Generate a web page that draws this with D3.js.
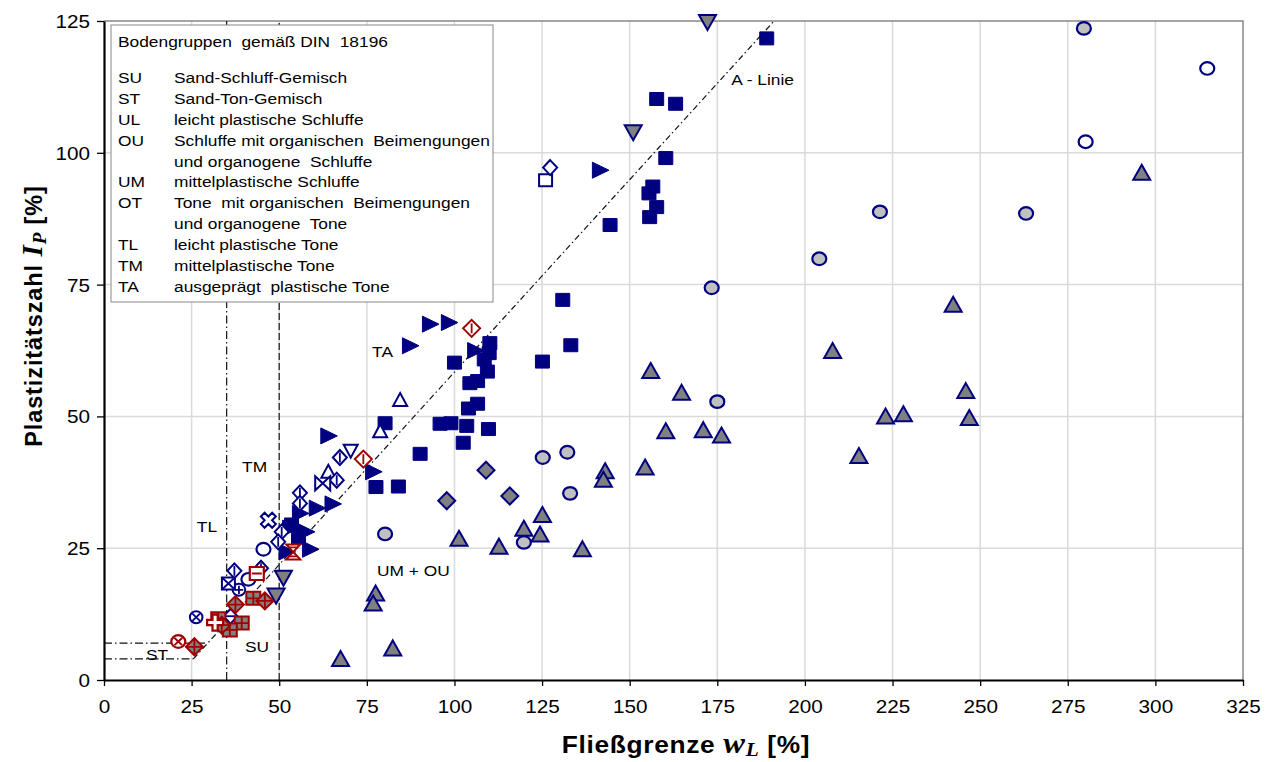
<!DOCTYPE html>
<html>
<head>
<meta charset="utf-8">
<script src="https://cdn.jsdelivr.net/npm/d3@7"></script>
<style>
  body { margin: 0; background: #fff; }
  svg { display: block; }
  text { font-family: "Liberation Sans", Arial, sans-serif; fill: #000; white-space: pre; }
</style>
</head>
<body>
<svg id="chart" width="1278" height="762"></svg>
<script>
// ---- Data: liquid limit wL [%] vs. plasticity index Ip [%] ----
const xTicks = [0, 25, 50, 75, 100, 125, 150, 175, 200, 225, 250, 275, 300, 325];
const yTicks = [0, 25, 50, 75, 100, 125];

const filledSquares = [[189.1,121.7],[157.7,110.2],[163.1,109.3],[160.3,99.0],[156.6,93.6],[155.5,92.3],[157.7,89.7],[155.7,87.8],[144.4,86.3],[130.9,72.1],[110.1,63.9],[109.9,62.0],[108.5,60.8],[100.0,60.2],[125.1,60.4],[133.2,63.5],[109.4,58.5],[106.6,56.7],[104.4,56.3],[106.6,52.4],[104.0,51.5],[80.2,48.7],[95.9,48.6],[99.0,48.7],[103.5,48.2],[109.7,47.6],[102.5,45.0],[90.2,42.9],[77.6,36.6],[84.0,36.7],[53.5,29.5],[55.5,27.0]];
const filledRightTriangles = [[141.5,96.7],[93.0,67.5],[98.4,67.8],[87.3,63.4],[105.9,62.5],[76.8,39.5],[64.0,46.3],[65.2,33.4],[60.7,32.6],[55.9,31.6],[57.6,28.1],[58.8,24.8],[53.1,28.8],[52.1,24.3]];
const openSquares = [[126.0,94.8]];
const openDiamonds = [[127.3,97.2]];
const openTrianglesUp = [[84.5,53.1],[78.8,47.2],[64.0,39.5]];
const openTrianglesDown = [[70.4,43.5]];
const openDiamondsVLine = [[67.3,42.2],[66.4,37.9],[55.9,35.5],[55.9,33.5],[50.7,28.1],[49.7,26.2],[44.8,21.2],[37.2,20.7]];
const openDiamondsHLine = [[36.1,12.1]];
const bowties = [[62.4,37.3]];
const openCrosses = [[46.9,30.3]];
const openCircles = [[314.8,116.0],[280.1,102.1],[45.5,24.8],[41.2,19.1]];
const grayCircles = [[279.6,123.6],[221.4,88.8],[263.1,88.5],[204.1,79.9],[173.4,74.4],[175.0,52.8],[125.2,42.2],[132.2,43.2],[133.0,35.4],[80.2,27.7],[119.8,26.1]];
const grayTrianglesUp = [[296.1,96.1],[242.3,71.1],[207.9,62.3],[245.9,54.7],[246.9,49.6],[223.0,49.9],[228.1,50.3],[215.4,42.4],[156.0,58.5],[164.8,54.4],[160.3,47.1],[171.0,47.3],[176.2,46.3],[154.4,40.2],[143.0,39.5],[142.5,37.9],[125.1,31.2],[119.8,28.6],[124.4,27.5],[101.3,26.7],[112.7,25.2],[136.5,24.7],[77.5,16.3],[76.8,14.4],[82.4,5.9],[67.5,3.9]];
const grayTrianglesDown = [[172.2,124.9],[151.0,104.0],[51.2,19.5],[49.1,16.1]];
const grayDiamonds = [[109.0,39.8],[97.8,34.0],[115.8,34.9]];
const circlesX = [[26.3,11.9]];
const circlesPlus = [[38.5,17.1]];
const squaresX = [[35.5,18.3]];
const redCirclesX = [[21.2,7.3]];
const redDiamondsVLine = [[104.9,66.7],[74.0,41.9]];
const redHourglasses = [[54.0,24.3]];
const redSquaresHLine = [[43.6,20.2]];
const redCrosses = [[31.7,10.9]];
const redGridDiamonds = [[25.8,6.3],[45.9,15.0],[37.5,14.3],[33.6,10.4]];
const redGridSquares = [[42.6,15.5],[39.3,10.8],[35.9,9.5],[32.6,11.6]];

// Classification boundaries (DIN 18196 plasticity chart)
const aLine = [[25.5,4],[191.2,125]];
const ipLow = [[0,4],[25.5,4]];
const ipHigh = [[0,7],[29.6,7]];
const wl35 = [[35,0],[35,125]];
const wl50 = [[50,0],[50,125]];

// Zone annotations, anchored in data units
const zoneLabels = [["A - Linie",179.0,112.9],["TA",76.5,61.2],["TM",39.4,39.4],["TL",26.5,28.1],["UM + OU",77.9,19.7],["SU",40.2,5.3],["ST",12.0,3.8]];

const legendTitle = "Bodengruppen  gemäß DIN  18196";
const legendCodes = ["SU","ST","UL","OU","","UM","OT","","TL","TM","TA"];
const legendTexts = ["Sand-Schluff-Gemisch","Sand-Ton-Gemisch","leicht plastische Schluffe","Schluffe mit organischen  Beimengungen","und organogene  Schluffe","mittelplastische Schluffe","Tone  mit organischen  Beimengungen","und organogene  Tone","leicht plastische Tone","mittelplastische Tone","ausgeprägt  plastische Tone"];

// ---- Layout ----
const NAVY = "#000080", RED = "#a00000", GRAY = "#808080", LIGHT = "#c0c0c0";
const SX = 1.12; // horizontal glyph stretch
const svg = d3.select("#chart");
const x = d3.scaleLinear().domain([0, 325]).range([104, 1243]);
const y = d3.scaleLinear().domain([0, 125]).range([680, 21]);

// Grid
const grid = svg.append("g").attr("stroke", "#dadada").attr("stroke-width", 1.5);
grid.selectAll(".gx").data(xTicks.slice(1, -1)).join("line")
  .attr("x1", d => x(d)).attr("x2", d => x(d)).attr("y1", y(0)).attr("y2", y(125));
grid.selectAll(".gy").data(yTicks.slice(1, -1)).join("line")
  .attr("x1", x(0)).attr("x2", x(325)).attr("y1", d => y(d)).attr("y2", d => y(d));

// Plot frame (top / right)
svg.append("path")
  .attr("d", `M${x(0)},${y(125)}H${x(325)}V${y(0)}`)
  .attr("fill", "none").attr("stroke", "#888").attr("stroke-width", 1.5);

// Boundary lines
const line = d3.line().x(d => x(d[0])).y(d => y(d[1]));
const bounds = svg.append("g").attr("fill", "none").attr("stroke", "#111").attr("stroke-width", 1.2);
bounds.append("path").attr("d", line(aLine)).attr("stroke-dasharray", "6,3,1.5,3");
bounds.append("path").attr("d", line(ipLow)).attr("stroke-dasharray", "8,3,1.5,3");
bounds.append("path").attr("d", line(ipHigh)).attr("stroke-dasharray", "8,3,1.5,3");
bounds.append("path").attr("d", line(wl35)).attr("stroke-dasharray", "8,3,1.5,3");
bounds.append("path").attr("d", line(wl50)).attr("stroke-dasharray", "7,3").attr("stroke", "#333").attr("stroke-width", 1.4);

// Stretched text helper
function stext(g, px, py, str, size, anchor) {
  return g.append("text")
    .attr("transform", `translate(${px},${py}) scale(${SX},1)`)
    .attr("font-size", size)
    .attr("text-anchor", anchor || "start")
    .text(str);
}

// Zone labels
const zl = svg.append("g");
zoneLabels.forEach(d => stext(zl, x(d[1]), y(d[2]), d[0], 15.5));

// Legend box
const lg = svg.append("g");
lg.append("rect").attr("x", 111).attr("y", 25).attr("width", 382).attr("height", 277)
  .attr("fill", "#fff").attr("stroke", "#888").attr("stroke-width", 1);
stext(lg, 118, 47, legendTitle, 15.5);
legendTexts.forEach((t, i) => {
  const by = 83.3 + i * 20.83;
  if (legendCodes[i]) stext(lg, 118, by, legendCodes[i], 15.5);
  stext(lg, 174, by, t, 15.5);
});

// Axes
const yAxis = svg.append("g").attr("transform", `translate(${x(0)},0)`)
  .call(d3.axisLeft(y).tickValues(yTicks).tickSize(7).tickSizeOuter(0));
const xAxis = svg.append("g").attr("transform", `translate(0,${y(0)})`)
  .call(d3.axisBottom(x).tickValues(xTicks).tickSize(6).tickSizeOuter(0));
[yAxis, xAxis].forEach(a => {
  a.select(".domain").attr("stroke", "#000").attr("stroke-width", 2.2);
  a.selectAll(".tick line").attr("stroke", "#000").attr("stroke-width", 1.3);
  a.selectAll(".tick text").attr("font-family", null).attr("font-size", 18.5).attr("fill", "#000");
});
yAxis.selectAll(".tick text").attr("x", 0).attr("dy", "0.35em")
  .attr("transform", `translate(-14,0) scale(${SX},1)`);
xAxis.selectAll(".tick text").attr("y", 0).attr("dy", 0)
  .attr("transform", `translate(0,33) scale(${SX},1)`);

// Axis titles
const xt = svg.append("text")
  .attr("transform", `translate(686,753) scale(${SX},1)`)
  .attr("text-anchor", "middle").attr("font-weight", "bold").attr("font-size", 23.5)
  .attr("letter-spacing", 0.6);
xt.append("tspan").text("Fließgrenze ");
xt.append("tspan").attr("font-family", "Liberation Serif").attr("font-style", "italic").attr("font-size", 29).text("w");
xt.append("tspan").attr("font-family", "Liberation Serif").attr("font-style", "italic").attr("font-size", 19).attr("dy", 3).text("L");
xt.append("tspan").attr("dy", -3).text(" [%]");

const yt = svg.append("text")
  .attr("transform", "translate(42,316) rotate(-90)")
  .attr("text-anchor", "middle").attr("font-weight", "bold").attr("font-size", 23.5)
  .attr("letter-spacing", 0.9);
yt.append("tspan").text("Plastizitätszahl ");
yt.append("tspan").attr("font-family", "Liberation Serif").attr("font-style", "italic").attr("font-size", 29).text("I");
yt.append("tspan").attr("font-family", "Liberation Serif").attr("font-style", "italic").attr("font-size", 19).attr("dy", 4).text("P");
yt.append("tspan").attr("dy", -4).text(" [%]");

// ---- Marker shapes ----
const arm = 2.6, len = 8;
const crossPoly = `M${-arm},${-len}H${arm}V${-arm}H${len}V${arm}H${arm}V${len}H${-arm}V${arm}H${-len}V${-arm}H${-arm}Z`;
const SHAPES = {
  square: "M-7,-6.5H7V6.5H-7Z",
  triR: "M-7.5,-8L9,0L-7.5,8Z",
  triU: "M0,-8.5L8.5,6.5L-8.5,6.5Z",
  triUsmall: "M0,-7L7,6L-7,6Z",
  triD: "M-8.5,-6.5L8.5,-6.5L0,8.5Z",
  triDsmall: "M-7,-6L7,-6L0,7Z",
  diamond: "M0,-8.5L8.5,0L0,8.5L-8.5,0Z",
  diamondSmall: "M0,-7.5L7,0L0,7.5L-7,0Z",
  circle: "M-7,0A7,6.3 0 1,0 7,0A7,6.3 0 1,0 -7,0Z",
  circleSmall: "M-6.3,0A6.3,6 0 1,0 6.3,0A6.3,6 0 1,0 -6.3,0Z",
  bowtie: "M-7.5,-7L0,0L7.5,-7L7.5,7L0,0L-7.5,7Z",
  hourglass: "M-7,-7.5H7L0,0L7,7.5H-7L0,0Z",
  cross: crossPoly,
  squareSmall: "M-6.5,-6H6.5V6H-6.5Z"
};
const INNER = {
  vline: "M0,-5V5",
  hline: "M-4.5,0H4.5",
  hlineSq: "M-5,0H5",
  x: "M-3.8,-3.6L3.8,3.6M3.8,-3.6L-3.8,3.6",
  plus: "M-4.3,0H4.3M0,-4.1V4.1",
  gridSq: "M-7,0H7M0,-6.5V6.5",
  gridDia: "M-8.5,0H8.5M0,-8.5V8.5",
  xSq: "M-6.5,-6L6.5,6M6.5,-6L-6.5,6",
  hourglass: "M-4,-4.5H4M-4,4.5H4"
};

const seriesList = [
  { data: grayTrianglesUp, shape: "triU", fill: GRAY, stroke: NAVY, sw: 2 },
  { data: grayCircles, shape: "circle", fill: LIGHT, stroke: NAVY, sw: 2.2 },
  { data: grayDiamonds, shape: "diamond", fill: GRAY, stroke: NAVY, sw: 2 },
  { data: openCircles, shape: "circle", fill: "#fff", stroke: NAVY, sw: 2.2 },
  { data: filledSquares, shape: "square", fill: NAVY, stroke: NAVY, sw: 1 },
  { data: filledRightTriangles, shape: "triR", fill: NAVY, stroke: NAVY, sw: 1 },
  { data: grayTrianglesDown, shape: "triD", fill: GRAY, stroke: NAVY, sw: 2 },
  { data: openSquares, shape: "squareSmall", fill: "#fff", stroke: NAVY, sw: 2 },
  { data: openDiamonds, shape: "diamondSmall", fill: "#fff", stroke: NAVY, sw: 2 },
  { data: openTrianglesUp, shape: "triUsmall", fill: "#fff", stroke: NAVY, sw: 2 },
  { data: openTrianglesDown, shape: "triDsmall", fill: "#fff", stroke: NAVY, sw: 2 },
  { data: openDiamondsVLine, shape: "diamondSmall", fill: "#fff", stroke: NAVY, sw: 2, inner: "vline" },
  { data: openDiamondsHLine, shape: "diamondSmall", fill: "#fff", stroke: NAVY, sw: 2, inner: "hline" },
  { data: bowties, shape: "bowtie", fill: "#fff", stroke: NAVY, sw: 2 },
  { data: openCrosses, shape: "cross", fill: "#fff", stroke: NAVY, sw: 2, rotate: 45 },
  { data: circlesX, shape: "circleSmall", fill: "#fff", stroke: NAVY, sw: 2, inner: "x" },
  { data: circlesPlus, shape: "circleSmall", fill: "#fff", stroke: NAVY, sw: 2, inner: "plus" },
  { data: squaresX, shape: "squareSmall", fill: "#fff", stroke: NAVY, sw: 2, inner: "xSq" },
  { data: redGridSquares, shape: "square", fill: GRAY, stroke: RED, sw: 2, inner: "gridSq" },
  { data: redGridDiamonds, shape: "diamond", fill: GRAY, stroke: RED, sw: 2, inner: "gridDia" },
  { data: redCirclesX, shape: "circle", fill: "#fff", stroke: RED, sw: 2.2, inner: "x" },
  { data: redDiamondsVLine, shape: "diamond", fill: "#fff", stroke: RED, sw: 2, inner: "vline" },
  { data: redHourglasses, shape: "hourglass", fill: "#fff", stroke: RED, sw: 2, inner: "hourglass" },
  { data: redSquaresHLine, shape: "square", fill: "#fff", stroke: RED, sw: 2.2, inner: "hlineSq" },
  { data: redCrosses, shape: "cross", fill: "#fff", stroke: RED, sw: 2.2 }
];

const marks = svg.append("g");
seriesList.forEach(s => {
  const g = marks.append("g");
  const pts = g.selectAll("g").data(s.data).join("g")
    .attr("transform", d => `translate(${x(d[0])},${y(d[1])})` + (s.rotate ? ` rotate(${s.rotate})` : ""));
  pts.append("path").attr("d", SHAPES[s.shape])
    .attr("fill", s.fill).attr("stroke", s.stroke).attr("stroke-width", s.sw)
    .attr("stroke-linejoin", "miter");
  if (s.inner) {
    pts.append("path").attr("d", INNER[s.inner])
      .attr("fill", "none").attr("stroke", s.stroke).attr("stroke-width", s.sw * 0.9);
  }
});
</script>
</body>
</html>
